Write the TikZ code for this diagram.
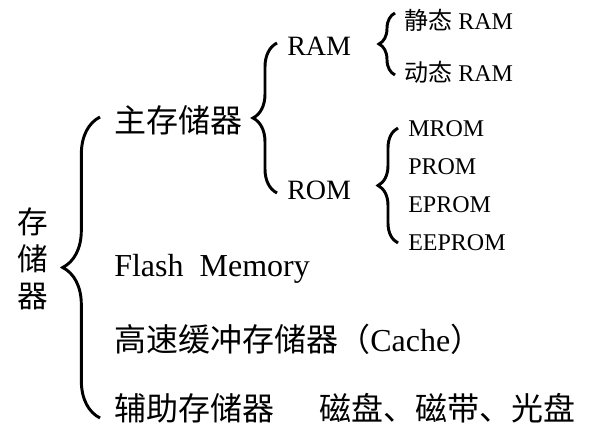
\documentclass[tikz,border=0pt]{standalone}
\usepackage{fontspec}
\setmainfont{Liberation Serif}
\newfontfamily\cjk{Noto Sans CJK SC}
\usetikzlibrary{decorations.pathreplacing}

\tikzset{
  big/.style={font=\fontsize{24}{28}\selectfont, inner sep=0pt, anchor=west},
  mid/.style={font=\fontsize{21}{25}\selectfont, inner sep=0pt, anchor=west},
  small/.style={font=\fontsize{18}{22}\selectfont, inner sep=0pt, anchor=west},
  curly/.style={decorate, decoration={brace, amplitude=#1}, line width=2.2pt}
}

\begin{document}
\begin{tikzpicture}[x=0.75pt,y=-0.75pt]
  \useasboundingbox (0,0) rectangle (597,442);

  % left column
  \node (mem) at (33,259) [align=center, inner sep=0pt, font=\cjk\fontsize{23}{27.8}\selectfont]{存\\储\\器};

  % first level
  \node (main) at (114,120) [big]{\cjk 主存储器};
  \node (flash) at (114,269) [big]{Flash\ \ Memory};
  \node (cache) at (114,339) [big]{{\cjk 高速缓冲存储器（}Cache{\cjk ）}};
  \node (aux) at (114,408) [big]{\cjk 辅助存储器};
  \node (disk) at (319,408) [big]{\cjk 磁盘、磁带、光盘};

  % second level
  \node (ram) at (287,46) [mid]{RAM};
  \node (rom) at (287,190) [mid]{ROM};

  % third level
  \node (sram) at (404,20) [small]{{\cjk 静态} RAM};
  \node (dram) at (404,72) [small]{{\cjk 动态} RAM};
  \node (mrom) at (408,129) [small]{MROM};
  \node (prom) at (408,167) [small]{PROM};
  \node (eprom) at (408,205) [small]{EPROM};
  \node (eeprom) at (408,243) [small]{EEPROM};

  % brace ends
  \coordinate (memT) at (100,117);
  \coordinate (memB) at (100,418);
  \coordinate (mainT) at (277,43);
  \coordinate (mainB) at (277,193);
  \coordinate (ramT) at (395,13);
  \coordinate (ramB) at (395,75);
  \coordinate (romT) at (398,128);
  \coordinate (romB) at (398,243);

  \draw[curly=28pt] (memB) -- (memT);
  \draw[curly=18pt] (mainB) -- (mainT);
  \draw[curly=12pt] (ramB) -- (ramT);
  \draw[curly=15pt] (romB) -- (romT);
\end{tikzpicture}
\end{document}
